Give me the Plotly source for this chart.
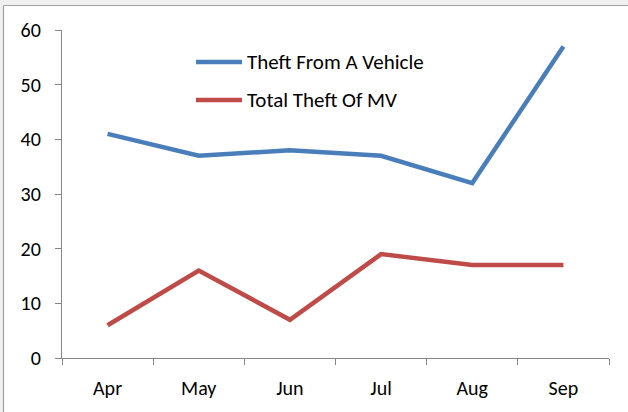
import plotly.graph_objects as go

months = ["Apr", "May", "Jun", "Jul", "Aug", "Sep"]
theft_from_vehicle = [41, 37, 38, 37, 32, 57]
total_theft_mv = [6, 16, 7, 19, 17, 17]
y_ticks = [0, 10, 20, 30, 40, 50, 60]
series_names = ["Theft From A Vehicle", "Total Theft Of MV"]
series_colors = ["#4a7ebb", "#be4b48"]

W_FIG, H_FIG = 628, 412
ML, MR, MT, MB = 62, 19, 30, 54
PW = W_FIG - ML - MR
PH = H_FIG - MT - MB


def px(x):
    return (x - ML) / PW


def py(y):
    return 1 - (y - MT) / PH


FONT = "Carlito, Calibri, Lato, sans-serif"
FS = 20

fig = go.Figure()
for vals, name, col in zip([theft_from_vehicle, total_theft_mv], series_names, series_colors):
    fig.add_trace(go.Scatter(x=months, y=vals, mode="lines", name=name,
                             line=dict(color=col, width=4.5), showlegend=False))

shapes = [
    dict(type="rect", xref="paper", yref="paper", x0=px(0), x1=px(W_FIG), y0=py(0), y1=py(5),
         fillcolor="#f0f0f0", line=dict(width=0), layer="below"),
    dict(type="rect", xref="paper", yref="paper", x0=px(0), x1=px(3), y0=py(0), y1=py(H_FIG),
         fillcolor="#f0f0f0", line=dict(width=0), layer="below"),
    dict(type="line", xref="paper", yref="paper", x0=px(3.5), x1=px(W_FIG), y0=py(5.5), y1=py(5.5),
         line=dict(color="#a0a0a0", width=1.2)),
    dict(type="line", xref="paper", yref="paper", x0=px(3.5), x1=px(3.5), y0=py(5.5), y1=py(H_FIG),
         line=dict(color="#a0a0a0", width=1.2)),
]

annotations = []
legend_rows = [62, 100]
for name, col, ry in zip(series_names, series_colors, legend_rows):
    shapes.append(dict(type="line", xref="paper", yref="paper", x0=px(196), x1=px(242),
                       y0=py(ry), y1=py(ry), line=dict(color=col, width=4.5)))
    annotations.append(dict(xref="paper", yref="paper", x=px(245), y=py(ry), text=name,
                            showarrow=False, xanchor="left", yanchor="middle",
                            font=dict(family=FONT, size=21, color="#000000")))

fig.update_layout(
    width=W_FIG, height=H_FIG,
    margin=dict(l=ML, r=MR, t=MT, b=MB, pad=0),
    paper_bgcolor="white", plot_bgcolor="white",
    font=dict(family=FONT, size=FS, color="#000000"),
    showlegend=False,
    shapes=shapes,
    annotations=annotations,
    xaxis=dict(type="category", range=[-0.5, 5.5], showgrid=False, zeroline=False,
               showline=True, linecolor="#868686", linewidth=1.2,
               ticks="outside", tickson="boundaries", ticklen=6, tickcolor="#868686",
               ticklabelstandoff=12,
               tickfont=dict(family=FONT, size=FS), fixedrange=True),
    yaxis=dict(range=[0, 60], tickvals=y_ticks, showgrid=False, zeroline=False,
               showline=True, linecolor="#868686", linewidth=1.2,
               ticks="outside", ticklen=6, tickcolor="#868686",
               ticklabelstandoff=10,
               tickfont=dict(family=FONT, size=FS), fixedrange=True),
)

fig.write_html("out.html", config={"displayModeBar": False},
               post_script="document.body.style.margin='0';document.body.style.padding='0';")
